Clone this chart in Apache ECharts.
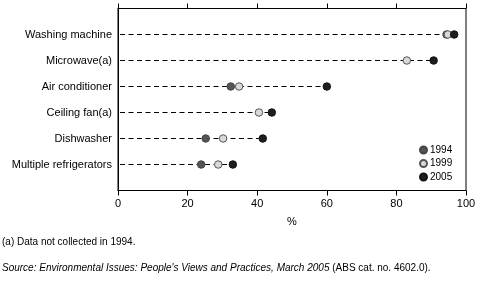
<!DOCTYPE html>
<html><head><meta charset="utf-8">
<script src="https://cdn.jsdelivr.net/npm/echarts@6/dist/echarts.min.js"></script>
<style>html,body{margin:0;padding:0;background:#fff}#c{width:498px;height:284px}</style>
</head><body><div id="c"></div>
<script>
const categories = ['Washing machine','Microwave(a)','Air conditioner','Ceiling fan(a)','Dishwasher','Multiple refrigerators'];
const v1994 = [94.4, null, 32.4, null, 25.2, 23.9];
const v1999 = [94.8, 83.0, 34.8, 40.5, 30.2, 28.8];
const v2005 = [96.6, 90.7, 60.0, 44.2, 41.6, 33.0];
const xTicks = [0,20,40,60,80,100];

const yCats = [''].concat(categories, ['']);
const font = 'Liberation Sans, Arial, sans-serif';

const lineSeries = categories.map((c,i)=>{
  const m = Math.max(...[v1994[i],v1999[i],v2005[i]].filter(v=>v!=null));
  return {type:'line', data:[[0,c],[m,c]], symbol:'none', silent:true, z:1,
    lineStyle:{color:'#000', width:1, type:[5,3.5], dashOffset:-2}};
});
function sc(name, vals, color, border){
  return {type:'scatter', name, data: vals.map((v,i)=> v==null?null:[v,categories[i]]),
    symbolSize:7.5, z:3, itemStyle:{color, borderColor:border, borderWidth:1, opacity:1}};
}
const chart = echarts.init(document.getElementById('c'));
chart.setOption({
  animation:false,
  grid:{left:118, right:32, top:8.5, bottom:93.5, show:true, borderColor:'#000', borderWidth:1},
  xAxis:[{type:'value', min:0, max:100, interval:20, position:'bottom',
    axisLine:{show:true, lineStyle:{color:'#000'}}, axisTick:{show:true, length:5, lineStyle:{color:'#000'}},
    splitLine:{show:false},
    axisLabel:{color:'#000', fontSize:11, fontFamily:font, margin:8, formatter:v=>xTicks.includes(v)?String(v):''},
    name:'%', nameLocation:'middle', nameGap:26, nameTextStyle:{color:'#000', fontSize:11, fontFamily:font}},
   {type:'value', min:0, max:100, interval:20, position:'top',
    axisLine:{show:true, lineStyle:{color:'#000'}}, axisTick:{show:true, length:5, lineStyle:{color:'#000'}},
    splitLine:{show:false}, axisLabel:{show:false}}],
  yAxis:{type:'category', data:yCats, inverse:true, boundaryGap:false,
    axisLine:{show:true, lineStyle:{color:'#000'}}, axisTick:{show:false}, splitLine:{show:false},
    axisLabel:{color:'#000', fontSize:11, fontFamily:font, margin:6}},
  legend:{orient:'vertical', left:419, top:144, itemWidth:7, itemHeight:7, itemGap:1.5, padding:0,
    textStyle:{color:'#000', fontSize:10, fontFamily:font, padding:[0,0,0,-2], lineHeight:12},
    data:['1994','1999','2005'], icon:'circle'},
  series: lineSeries.concat([
    sc('1994', v1994, '#555555', '#444444'),
    sc('1999', v1999, '#d9d9d9', '#555555'),
    sc('2005', v2005, '#1e1e1e', '#111111')
  ]),
  graphic:[
    {type:'text', left:2, top:237, style:{text:'(a) Data not collected in 1994.', fill:'#000', fontSize:10, fontFamily:font}},
    {type:'text', left:2, top:263, style:{text:'{i|Source: Environmental Issues: People\'s Views and Practices, March 2005} (ABS cat. no. 4602.0).',
      fill:'#000', fontSize:10, fontFamily:font, rich:{i:{fontStyle:'italic', fontSize:10, fontFamily:font, fill:'#000'}}}}
  ]
});
</script></body></html>
